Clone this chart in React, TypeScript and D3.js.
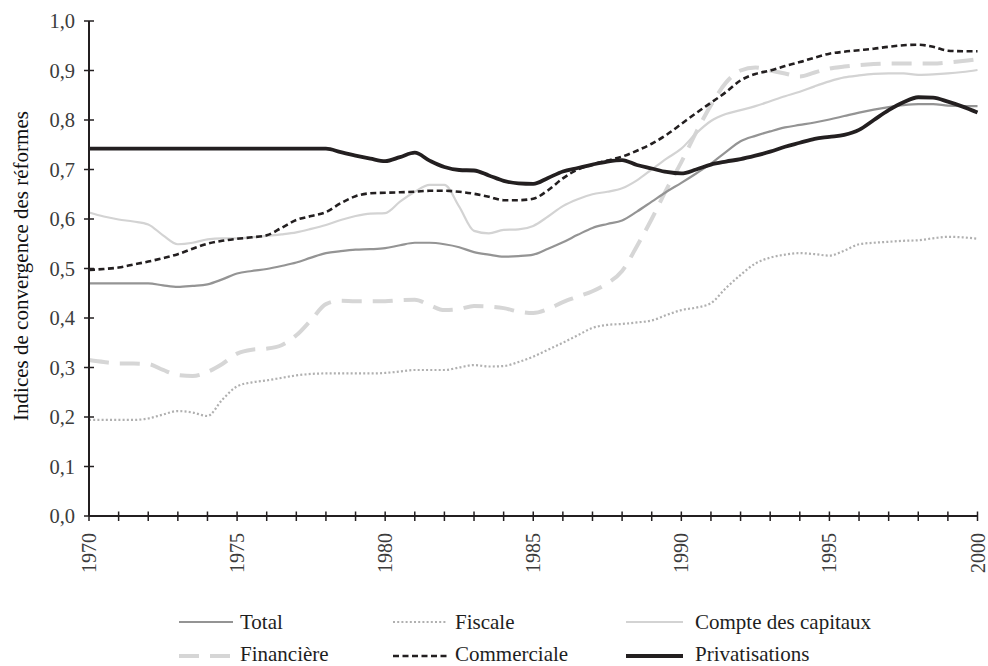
import React from "react";
import * as d3 from "d3";

const years: number[] = d3.range(0, 61).map((i) => 1970 + i * 0.5);

const total: number[] = [
  0.470, 0.470, 0.470, 0.470, 0.470, 0.466, 0.463, 0.465, 0.468, 0.478,
  0.490, 0.495, 0.499, 0.505, 0.512, 0.522, 0.531, 0.535, 0.538, 0.539,
  0.541, 0.547, 0.552, 0.552, 0.549, 0.543, 0.533, 0.528, 0.524, 0.525,
  0.528, 0.540, 0.553, 0.568, 0.582, 0.590, 0.597, 0.615, 0.635, 0.655,
  0.673, 0.692, 0.712, 0.735, 0.757, 0.768, 0.777, 0.785, 0.790, 0.795,
  0.801, 0.808, 0.815, 0.821, 0.826, 0.830, 0.832, 0.832, 0.829, 0.828,
  0.828,
];

const fiscale: number[] = [
  0.194, 0.194, 0.194, 0.194, 0.197, 0.205, 0.212, 0.209, 0.202, 0.235,
  0.262, 0.270, 0.274, 0.279, 0.284, 0.287, 0.288, 0.288, 0.288, 0.288,
  0.289, 0.292, 0.295, 0.295, 0.295, 0.300, 0.305, 0.302, 0.303, 0.311,
  0.322, 0.336, 0.350, 0.365, 0.380, 0.386, 0.388, 0.391, 0.395, 0.406,
  0.416, 0.421, 0.430, 0.460, 0.487, 0.510, 0.522, 0.528, 0.531, 0.529,
  0.526, 0.536, 0.549, 0.552, 0.554, 0.556, 0.557, 0.561, 0.564, 0.563,
  0.560,
];

const compte: number[] = [
  0.613, 0.605, 0.599, 0.595, 0.589, 0.567, 0.549, 0.552, 0.559, 0.561,
  0.561, 0.563, 0.566, 0.569, 0.573, 0.580, 0.588, 0.598, 0.606, 0.611,
  0.612, 0.635, 0.655, 0.669, 0.669, 0.625, 0.576, 0.571, 0.578, 0.579,
  0.586, 0.605, 0.626, 0.640, 0.650, 0.655, 0.662, 0.678, 0.700, 0.722,
  0.742, 0.773, 0.798, 0.812, 0.820, 0.828, 0.838, 0.848, 0.857, 0.868,
  0.878, 0.886, 0.890, 0.893, 0.894, 0.894, 0.891, 0.892, 0.894, 0.897,
  0.901,
];

const financiere: number[] = [
  0.315, 0.311, 0.308, 0.308, 0.307, 0.295, 0.285, 0.283, 0.291, 0.307,
  0.328, 0.336, 0.338, 0.345, 0.365, 0.396, 0.428, 0.435, 0.434, 0.434,
  0.434, 0.436, 0.437, 0.426, 0.416, 0.418, 0.424, 0.423, 0.420, 0.413,
  0.410, 0.418, 0.432, 0.443, 0.454, 0.470, 0.495, 0.545, 0.600, 0.660,
  0.715, 0.775, 0.830, 0.875, 0.900, 0.906, 0.900, 0.894, 0.888, 0.896,
  0.904, 0.908, 0.911, 0.913, 0.914, 0.914, 0.914, 0.914, 0.916, 0.919,
  0.923,
];

const commerciale: number[] = [
  0.497, 0.499, 0.502, 0.508, 0.514, 0.521, 0.529, 0.540, 0.550, 0.556,
  0.560, 0.563, 0.567, 0.582, 0.598, 0.606, 0.614, 0.632, 0.646, 0.652,
  0.653, 0.654, 0.655, 0.657, 0.657, 0.655, 0.651, 0.645, 0.638, 0.638,
  0.641, 0.658, 0.682, 0.700, 0.710, 0.718, 0.726, 0.738, 0.752, 0.770,
  0.792, 0.814, 0.835, 0.856, 0.880, 0.893, 0.900, 0.909, 0.917, 0.926,
  0.934, 0.938, 0.941, 0.944, 0.948, 0.951, 0.952, 0.948, 0.940, 0.939,
  0.939,
];

const privatisations: number[] = [
  0.742, 0.742, 0.742, 0.742, 0.742, 0.742, 0.742, 0.742, 0.742, 0.742,
  0.742, 0.742, 0.742, 0.742, 0.742, 0.742, 0.742, 0.735, 0.728, 0.722,
  0.717, 0.725, 0.734, 0.718, 0.705, 0.699, 0.698, 0.688, 0.677, 0.672,
  0.671, 0.683, 0.696, 0.703, 0.710, 0.716, 0.719, 0.709, 0.702, 0.695,
  0.692, 0.700, 0.710, 0.716, 0.721, 0.728, 0.736, 0.746, 0.754, 0.762,
  0.766, 0.770, 0.780, 0.800, 0.820, 0.836, 0.846, 0.845, 0.837, 0.827,
  0.815,
];

const seriesNames: string[] = [
  "Total",
  "Fiscale",
  "Compte des capitaux",
  "Financière",
  "Commerciale",
  "Privatisations",
];

const yTickValues: number[] = [0, 0.1, 0.2, 0.3, 0.4, 0.5, 0.6, 0.7, 0.8, 0.9, 1.0];
const xMajorTicks: number[] = [1970, 1975, 1980, 1985, 1990, 1995, 2000];
const xMinorTicks: number[] = d3.range(1970, 2001);

const yTitle = "Indices de convergence des réformes";

type Style = { stroke: string; width: number; dash?: string };

const styles: Record<string, Style> = {
  Total: { stroke: "#949494", width: 2.2 },
  Fiscale: { stroke: "#b0b0b0", width: 2.2, dash: "2 2.2" },
  "Compte des capitaux": { stroke: "#d3d3d3", width: 2.2 },
  Financière: { stroke: "#d6d6d6", width: 4, dash: "20 11" },
  Commerciale: { stroke: "#231f20", width: 2.6, dash: "6 3.5" },
  Privatisations: { stroke: "#231f20", width: 3.8 },
};

const dataByName: Record<string, number[]> = {
  Total: total,
  Fiscale: fiscale,
  "Compte des capitaux": compte,
  Financière: financiere,
  Commerciale: commerciale,
  Privatisations: privatisations,
};

const drawOrder: string[] = [
  "Fiscale",
  "Financière",
  "Compte des capitaux",
  "Total",
  "Commerciale",
  "Privatisations",
];

const W = 988;
const H = 666;
const FONT = "'Liberation Serif', 'Times New Roman', serif";
const TEXT = "#3c3c3c";
const AXIS = "#231f20";

export default function App() {
  const x = d3.scaleLinear().domain([1970, 2000]).range([89, 977.5]);
  const y = d3.scaleLinear().domain([0, 1]).range([516, 21]);

  const line = d3
    .line<number>()
    .x((_, i) => x(years[i]))
    .y((d) => y(d))
    .curve(d3.curveMonotoneX);

  const fmt = (v: number) => d3.format(".1f")(v).replace(".", ",");

  const legendCols = [
    { lx1: 179, lx2: 233, tx: 240 },
    { lx1: 393, lx2: 447, tx: 455 },
    { lx1: 626, lx2: 683, tx: 695 },
  ];
  const legendRows = [622, 656];
  const legendBaselines = [628.5, 660.5];

  return (
    <svg
      width={W}
      height={H}
      viewBox={`0 0 ${W} ${H}`}
      style={{ position: "absolute", left: 0, top: 0, background: "#fff" }}
    >
      <rect x={0} y={0} width={W} height={H} fill="#fff" />
      {drawOrder.map((name) => {
        const s = styles[name];
        return (
          <path
            key={name}
            d={line(dataByName[name]) || ""}
            fill="none"
            stroke={s.stroke}
            strokeWidth={s.width}
            strokeDasharray={s.dash}
            strokeLinejoin="round"
          />
        );
      })}

      <line x1={x(1970)} x2={x(1970)} y1={y(1)} y2={y(0)} stroke={AXIS} strokeWidth={2} />
      {yTickValues.map((v) => (
        <g key={v}>
          <line x1={x(1970) - 5} x2={x(1970) + 5} y1={y(v)} y2={y(v)} stroke={AXIS} strokeWidth={1.5} />
          <text
            x={75}
            y={y(v)}
            dy="0.35em"
            textAnchor="end"
            fontFamily={FONT}
            fontSize={20.5}
            fill={TEXT}
          >
            {fmt(v)}
          </text>
        </g>
      ))}

      <line x1={x(1970)} x2={x(2000)} y1={y(0)} y2={y(0)} stroke={AXIS} strokeWidth={2} />
      {xMinorTicks.map((t) => (
        <line key={t} x1={x(t)} x2={x(t)} y1={y(0) - 4.5} y2={y(0) + 5} stroke={AXIS} strokeWidth={1.5} />
      ))}
      {xMajorTicks.map((t) => (
        <text
          key={t}
          transform={`translate(${x(t)},533) rotate(-90)`}
          dy="0.35em"
          textAnchor="end"
          fontFamily={FONT}
          fontSize={20}
          fill={TEXT}
        >
          {t}
        </text>
      ))}

      <text
        transform={`translate(28,266) rotate(-90)`}
        textAnchor="middle"
        fontFamily={FONT}
        fontSize={21}
        fill="#111"
      >
        {yTitle}
      </text>

      {seriesNames.map((name, i) => {
        const col = legendCols[i % 3];
        const row = Math.floor(i / 3);
        const ry = legendRows[row];
        const s = styles[name];
        return (
          <g key={name}>
            <line
              x1={col.lx1}
              x2={col.lx2}
              y1={ry}
              y2={ry}
              stroke={s.stroke}
              strokeWidth={s.width}
              strokeDasharray={s.dash}
            />
            <text x={col.tx} y={legendBaselines[row]} fontFamily={FONT} fontSize={21} fill="#1e1e1e">
              {name}
            </text>
          </g>
        );
      })}
    </svg>
  );
}
